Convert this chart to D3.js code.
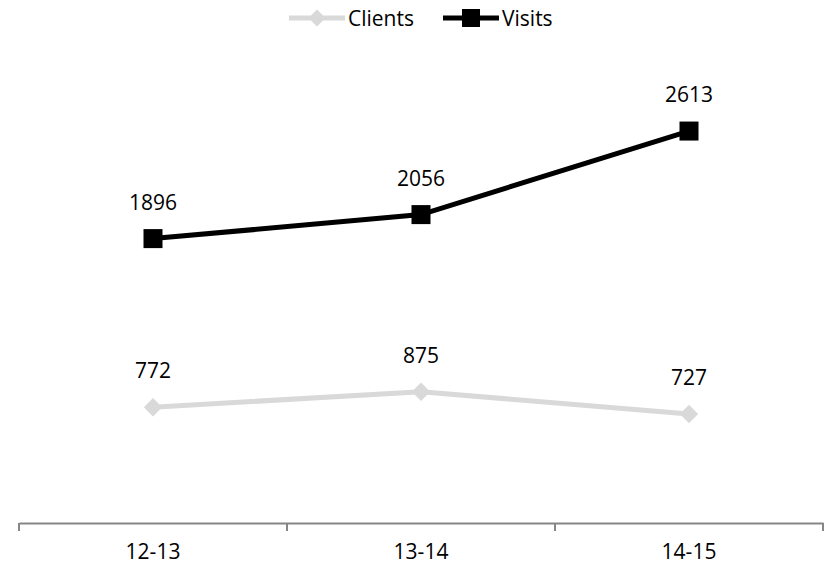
<!DOCTYPE html>
<html>
<head>
<meta charset="utf-8">
<script src="https://cdn.jsdelivr.net/npm/d3@7"></script>
<style>
  body { margin: 0; background: #fff; }
  text { font-family: "Open Sans", "Liberation Sans", sans-serif; fill: #000; }
</style>
</head>
<body>
<div id="chart"></div>
<script>
// Data
const years = ["12-13", "13-14", "14-15"];
const clients = [772, 875, 727];
const visits = [1896, 2056, 2613];

const svgWidth = 825;
const svgHeight = 572;
const margin = { top: 73, right: 2, bottom: 49, left: 19 };
const width = svgWidth - margin.left - margin.right;
const height = svgHeight - margin.top - margin.bottom;
const fontSize = 21;

const svg = d3.select("#chart")
  .append("svg")
  .attr("width", svgWidth)
  .attr("height", svgHeight);

const chartGroup = svg.append("g")
  .attr("transform", `translate(${margin.left}, ${margin.top})`);

const xScale = d3.scaleBand()
  .domain(years)
  .range([0, width]);

const yScale = d3.scaleLinear()
  .domain([0, 3000])
  .range([height, 0]);

// x axis
const bottomAxis = d3.axisBottom(xScale).tickSize(0).tickPadding(21);
const xAxis = chartGroup.append("g")
  .attr("transform", `translate(0, ${height})`)
  .call(bottomAxis);
xAxis.select(".domain").attr("stroke", "#868686").attr("stroke-width", 2);
xAxis.selectAll("text").attr("font-size", fontSize).attr("font-family", null);

// tick marks on the band edges
const edges = years.map(d => xScale(d)).concat([width]);
xAxis.selectAll(".edge")
  .data(edges)
  .join("line")
  .attr("x1", d => d).attr("x2", d => d)
  .attr("y1", 0).attr("y2", 8)
  .attr("stroke", "#868686")
  .attr("stroke-width", 2);

const cx = d => xScale(d) + xScale.bandwidth() / 2;

const series = [
  { name: "Clients", values: clients, color: "#d9d9d9", size: 13 },
  { name: "Visits", values: visits, color: "#000000", size: 19 }
];

const line = d3.line()
  .x((d, i) => cx(years[i]))
  .y(d => yScale(d));

series.forEach(s => {
  chartGroup.append("path")
    .datum(s.values)
    .attr("fill", "none")
    .attr("stroke", s.color)
    .attr("stroke-width", 5)
    .attr("d", line);

  // markers: square for visits, rotated square (diamond) for clients
  chartGroup.selectAll(null)
    .data(s.values)
    .join("rect")
    .attr("x", (d, i) => cx(years[i]) - s.size / 2)
    .attr("y", d => yScale(d) - s.size / 2)
    .attr("width", s.size)
    .attr("height", s.size)
    .attr("fill", s.color)
    .attr("transform", (d, i) => s.name === "Clients"
      ? `rotate(45, ${cx(years[i])}, ${yScale(d)})` : null);

  chartGroup.selectAll(null)
    .data(s.values)
    .join("text")
    .attr("x", (d, i) => cx(years[i]))
    .attr("y", d => yScale(d) - 29)
    .attr("text-anchor", "middle")
    .attr("font-size", fontSize)
    .text(d => d);
});

// Legend
const legend = svg.append("g").attr("transform", "translate(0, 18)");
const legendItems = [
  { x: 289, s: series[0] },
  { x: 443, s: series[1] }
];
legendItems.forEach(li => {
  legend.append("line")
    .attr("x1", li.x).attr("x2", li.x + 56)
    .attr("y1", 0).attr("y2", 0)
    .attr("stroke", li.s.color)
    .attr("stroke-width", 5);
  if (li.s.name === "Clients") {
    legend.append("rect")
      .attr("x", li.x + 28 - 6).attr("y", -6)
      .attr("width", 12).attr("height", 12)
      .attr("fill", li.s.color)
      .attr("transform", `rotate(45, ${li.x + 28}, 0)`);
  } else {
    legend.append("rect")
      .attr("x", li.x + 28 - 9).attr("y", -9)
      .attr("width", 18).attr("height", 18)
      .attr("fill", li.s.color);
  }
  legend.append("text")
    .attr("x", li.x + 59)
    .attr("y", 7.5)
    .attr("font-size", fontSize)
    .text(li.s.name);
});
</script>
</body>
</html>
